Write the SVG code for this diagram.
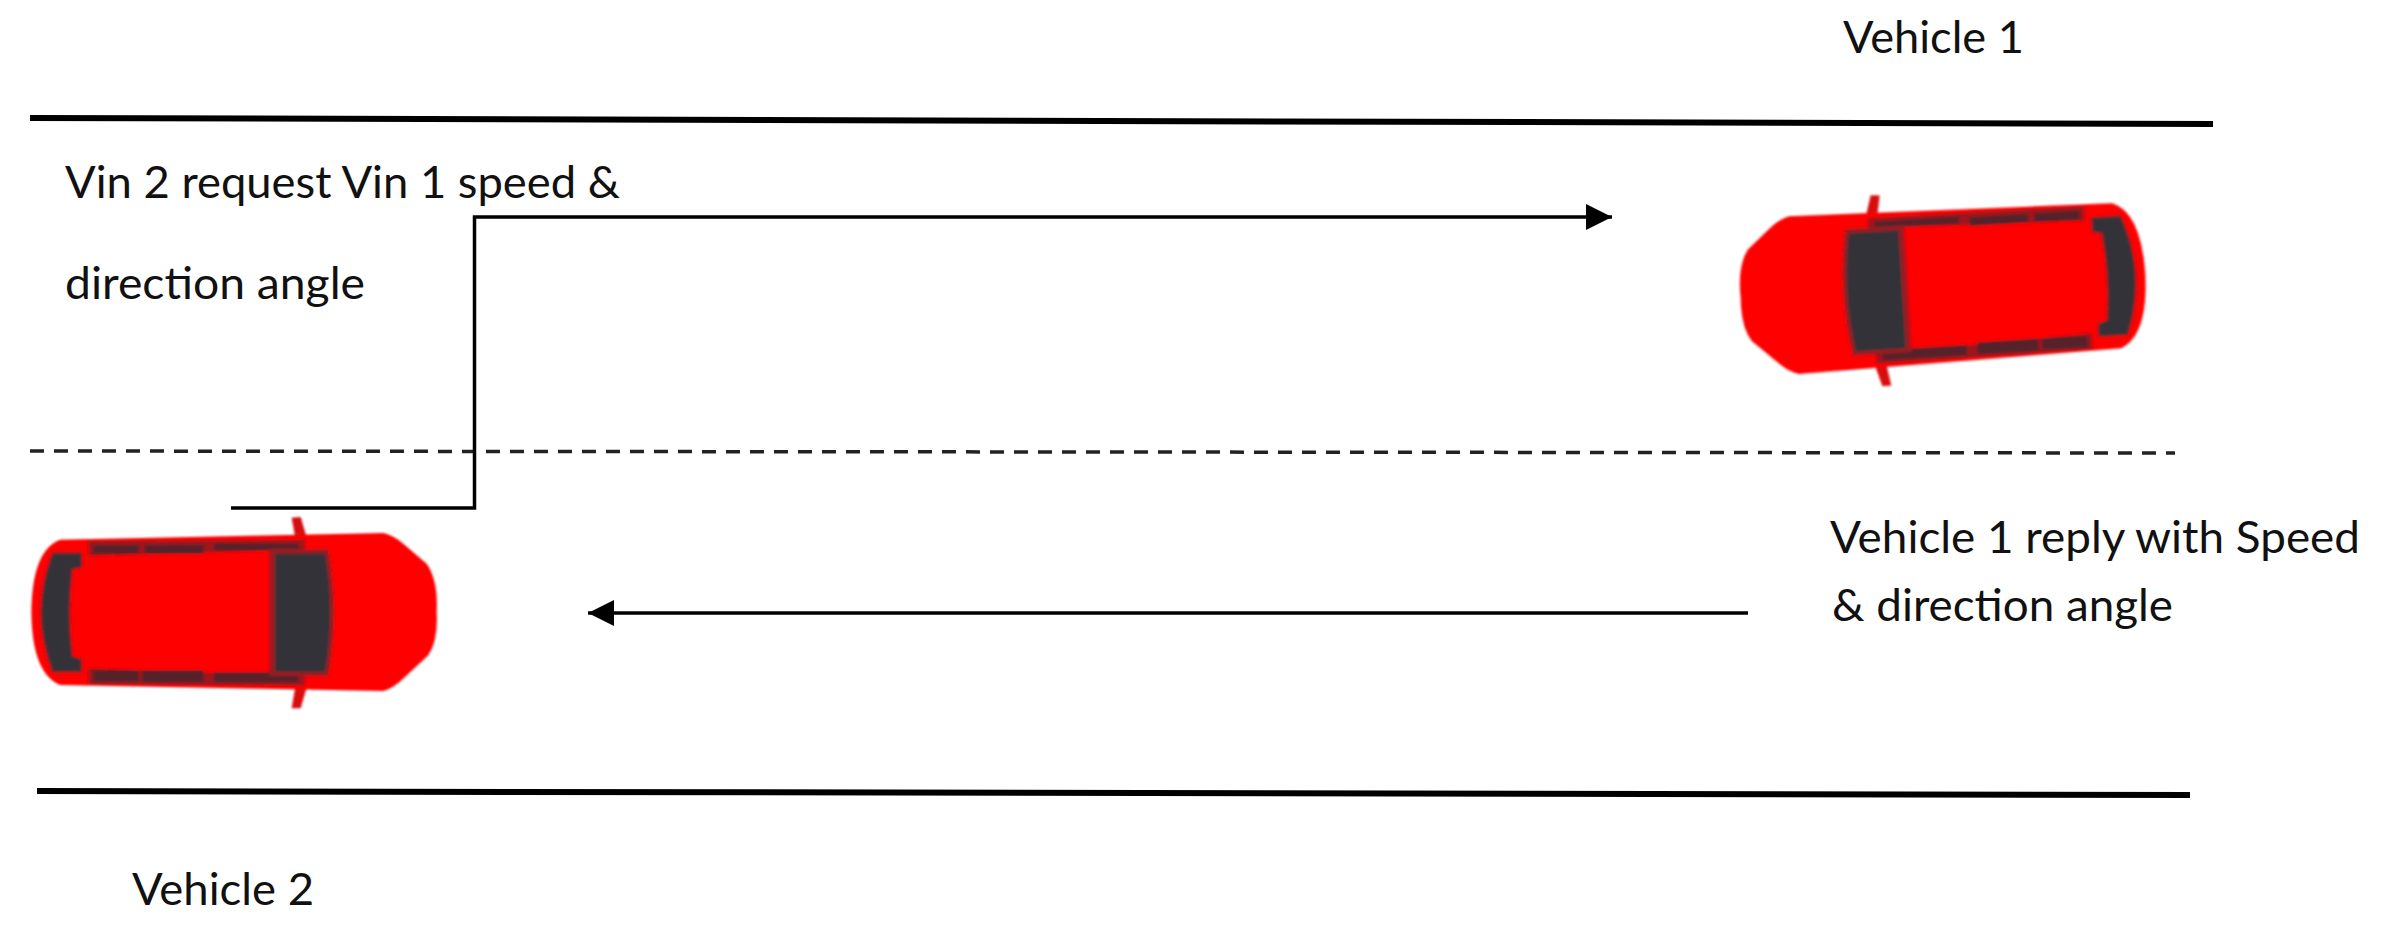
<svg xmlns="http://www.w3.org/2000/svg" width="2395" height="940" viewBox="0 0 2395 940">
<style>
text{font-family:"Lato","Open Sans","Liberation Sans",sans-serif;font-size:44px;fill:#111}
.road{stroke:#000;stroke-width:6;fill:none}
.lane{stroke:#222;stroke-width:3.500;stroke-dasharray:14 10;fill:none}
.conn{stroke:#000;stroke-width:3.500;fill:none}
</style>
<defs>
<marker id="head" markerUnits="userSpaceOnUse" markerWidth="26" markerHeight="26" refX="26" refY="13" orient="auto-start-reverse">
<path d="M0 0L26 13L0 26Z" fill="#000"/>
</marker>
<filter id="soft" x="-5%" y="-5%" width="110%" height="110%"><feGaussianBlur stdDeviation="1.100"/></filter>
<g id="car" filter="url(#soft)">
<g transform="scale(0.3333) translate(-672,-335)">
<path d="M845 52L872 50L889 108L855 108ZM855 565L889 565L872 624L845 624Z" fill="#d80a10"/>
<path d="M150 118L1120 98Q1150 105 1180 130L1250 190Q1285 240 1280 335Q1285 420 1255 465L1185 530Q1150 565 1120 572L150 554Q66 520 64 335Q66 150 150 118Z" fill="#fe0000"/>
<path d="M235 122L885 118L885 148L235 166ZM235 552L885 556L885 528L235 504Z" fill="#9c121b"/>
<path d="M250 134H385V160H250ZM405 134H580V160H405ZM612 130H865V150H612ZM250 510H385V544H250ZM397 510H580V546H397ZM612 516H865V546H612Z" fill="#55202a"/>
<path d="M778 146H955Q990 335 955 528H778Z" fill="#9a1a22"/>
<path d="M795 160H945Q975 335 945 514H795Z" fill="#333338"/>
<path d="M128 158H214V200L186 206Q170 335 186 468L214 478V514H128Q60 335 128 158Z" fill="#333338" stroke="#8a1a22" stroke-width="6"/>
</g>
</g>
</defs>
<rect width="2395" height="940" fill="#fff"/>
<g id="road">
<line class="road" x1="30" y1="118" x2="2213" y2="124"/>
<line class="lane" x1="30" y1="451" x2="2175" y2="453"/>
<line class="road" x1="37" y1="791" x2="2190" y2="795"/>
</g>
<g id="connectors">
<path class="conn" marker-end="url(#head)" d="M231 508H474.500V217H1612"/>
<path class="conn" marker-end="url(#head)" d="M1748 613H588"/>
</g>
<g id="vehicle-1">
<use href="#car" transform="translate(1943,286) rotate(-3.500) scale(-1,1)"/>
<text x="1843" y="53" textLength="181" lengthAdjust="spacingAndGlyphs">Vehicle 1</text>
</g>
<g id="vehicle-2">
<use href="#car" transform="translate(234,612)"/>
<text x="132" y="905" textLength="182" lengthAdjust="spacingAndGlyphs">Vehicle 2</text>
</g>
<g id="request-label">
<text x="65" y="198" textLength="555" lengthAdjust="spacingAndGlyphs">Vin 2 request Vin 1 speed &amp;</text>
<text x="65" y="299" textLength="300" lengthAdjust="spacingAndGlyphs">direction angle</text>
</g>
<g id="reply-label">
<text x="1830" y="553" textLength="530" lengthAdjust="spacingAndGlyphs">Vehicle 1 reply with Speed</text>
<text x="1832" y="621" textLength="341" lengthAdjust="spacingAndGlyphs">&amp; direction angle</text>
</g>
</svg>
